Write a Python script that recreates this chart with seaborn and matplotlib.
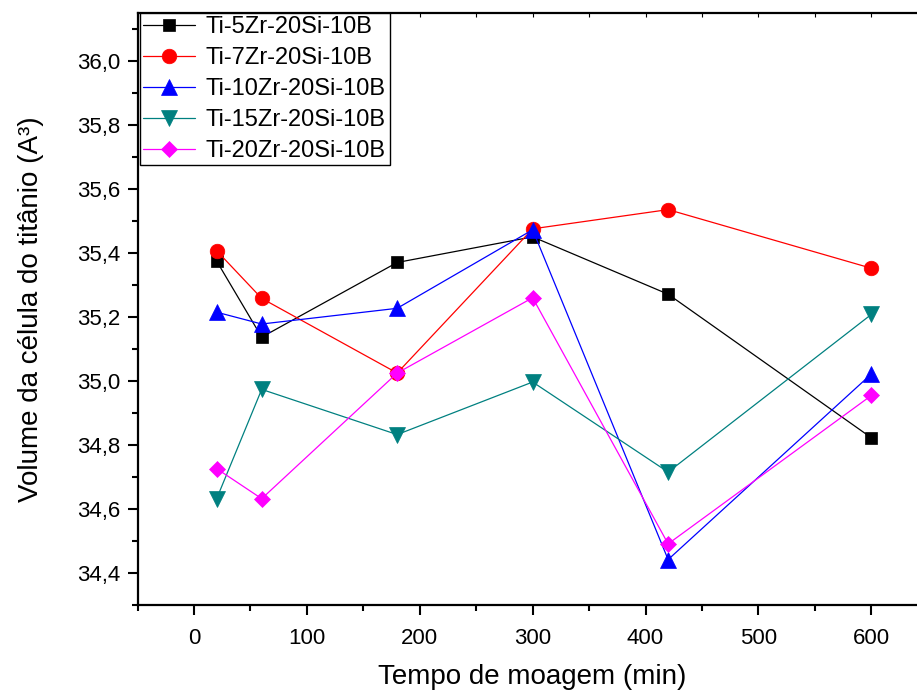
import matplotlib
matplotlib.use("Agg")
import matplotlib.pyplot as plt
import seaborn as sns
import pandas as pd
from matplotlib.ticker import MultipleLocator, FuncFormatter

# ---- data ----
tempo = [20, 60, 180, 300, 420, 600]
ti5 = [35.375, 35.137, 35.370, 35.450, 35.271, 34.823]
ti7 = [35.407, 35.258, 35.025, 35.475, 35.535, 35.352]
ti10 = [35.215, 35.178, 35.227, 35.472, 34.443, 35.022]
ti15 = [34.632, 34.974, 34.833, 34.997, 34.716, 35.208]
ti20 = [34.727, 34.633, 35.025, 35.260, 34.492, 34.955]
labels = ["Ti-5Zr-20Si-10B", "Ti-7Zr-20Si-10B", "Ti-10Zr-20Si-10B",
          "Ti-15Zr-20Si-10B", "Ti-20Zr-20Si-10B"]
xlabel = "Tempo de moagem (min)"
ylabel = "Volume da célula do titânio (A³)"

series = [ti5, ti7, ti10, ti15, ti20]
colors = ["#000000", "#FF0000", "#0000FF", "#008080", "#FF00FF"]
markers = ["s", "o", "^", "v", "D"]
msizes = [8.6, 10.5, 11.5, 11.5, 8.6]

sns.set_style("ticks")
plt.rcParams['font.family'] = ['Liberation Sans', 'DejaVu Sans']
plt.rcParams['text.color'] = 'black'
plt.rcParams['axes.labelcolor'] = 'black'
plt.rcParams['xtick.color'] = 'black'
plt.rcParams['ytick.color'] = 'black'

fig = plt.figure(figsize=(9.17, 6.91), dpi=100)
ax = fig.add_axes([137.5 / 917, 1 - 605.4 / 691, (927.8 - 137.5) / 917, (605.4 - 12.5) / 691])

for vals, lab, c, m, ms in zip(series, labels, colors, markers, msizes):
    df = pd.DataFrame({"x": tempo, "y": vals})
    sns.lineplot(data=df, x="x", y="y", ax=ax, color=c, marker=m, markersize=ms,
                 markeredgecolor=c, markeredgewidth=0.5, linewidth=0.9, label=lab,
                 sort=False)

ax.set_xlim(-50, 650)
ax.set_ylim(34.3, 36.15)
ax.xaxis.set_major_locator(MultipleLocator(100))
ax.xaxis.set_minor_locator(MultipleLocator(50))
ax.yaxis.set_major_locator(MultipleLocator(0.2))
ax.yaxis.set_minor_locator(MultipleLocator(0.1))
ax.yaxis.set_major_formatter(FuncFormatter(lambda v, p: f"{v:.1f}".replace(".", ",")))
ax.xaxis.set_major_formatter(FuncFormatter(lambda v, p: f"{v:.0f}"))

ax.tick_params(axis="both", which="both", bottom=True, left=True, top=True,
               right=False, labeltop=False, labelright=False)
ax.tick_params(axis="both", which="major", direction="out", length=7, width=1.5,
               labelsize=16, colors="black")
ax.tick_params(axis="x", which="major", pad=9)
ax.tick_params(axis="y", which="major", pad=5)
ax.tick_params(axis="both", which="minor", direction="out", length=4, width=1.5)
# top ticks short and inward
for t in ax.xaxis.get_major_ticks() + ax.xaxis.get_minor_ticks():
    t.tick2line.set_marker(3)  # TICKDOWN
    t.tick2line.set_markersize(3)
    t.tick2line.set_markeredgewidth(0.8)

for s in ["left", "bottom", "top", "right"]:
    ax.spines[s].set_color("black")
    ax.spines[s].set_linewidth(1.6)

ax.set_xlabel(xlabel, fontsize=20, labelpad=11)
ax.set_ylabel(ylabel, fontsize=20, labelpad=24)

leg = ax.legend(loc="upper left", bbox_to_anchor=(0.003, 1.0), borderaxespad=0,
                fontsize=17, frameon=True, fancybox=False, edgecolor="black",
                framealpha=1, handlelength=2.2, handletextpad=0.45,
                labelspacing=0.38, borderpad=0.15)
leg.get_frame().set_linewidth(1.0)

fig.savefig("out.png", dpi=100)
